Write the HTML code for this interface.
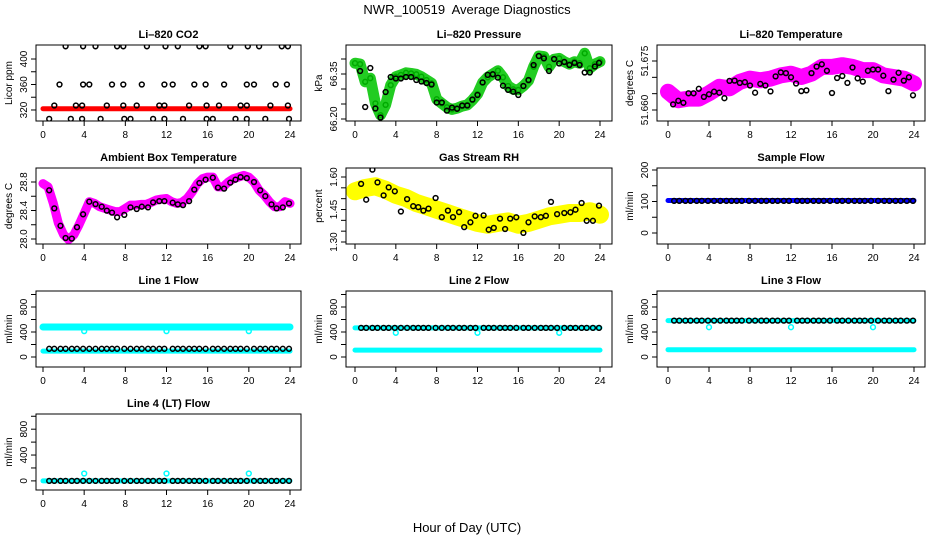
<!DOCTYPE html>
<html><head><meta charset="utf-8">
<style>
html,body{margin:0;padding:0;background:#fff;}
svg{display:block;font-family:"Liberation Sans",Arial,sans-serif;}
</style></head>
<body>
<svg id="chart" width="936" height="540" viewBox="0 0 936 540" xmlns="http://www.w3.org/2000/svg">
<rect x="0" y="0" width="936" height="540" fill="#fff"/>
<text x="467" y="14" text-anchor="middle" font-size="13" xml:space="preserve" style="white-space:pre">NWR_100519  Average Diagnostics</text>
<text x="467" y="532" text-anchor="middle" font-size="13">Hour of Day (UTC)</text>
<g id="panels"></g>
</svg>
<script>
// ---------- data ----------
const xTicks = [0,4,8,12,16,20,24];
const halfT = [0,0.5,1,1.5,2,2.5,3,3.5,4,4.5,5,5.5,6,6.5,7,7.5,8,8.5,9,9.5,10,10.5,11,11.5,12,12.5,13,13.5,14,14.5,15,15.5,16,16.5,17,17.5,18,18.5,19,19.5,20,20.5,21,21.5,22,22.5,23,23.5,24];
const hourT = [0,1,2,3,4,5,6,7,8,9,10,11,12,13,14,15,16,17,18,19,20,21,22,23,24];
const blackHalfT = [0.5,1,1.5,2,2.5,3,3.5,4,4.5,5,5.5,6,6.5,7,7.5,8,8.5,9,9.5,10,10.5,11,11.5,12,12.5,13,13.5,14,14.5,15,15.5,16,16.5,17,17.5,18,18.5,19,19.5,20,20.5,21,21.5,22,22.5,23,23.5,23.9];
const blackT = [0.6,1.1,1.7,2.2,2.8,3.3,3.9,4.5,5.1,5.7,6.2,6.7,7.2,7.9,8.5,9.1,9.6,10.2,10.7,11.3,11.8,12.6,13.1,13.6,14.2,14.7,15.2,15.8,16.5,17.0,17.6,18.2,18.7,19.2,19.8,20.5,21.1,21.6,22.2,22.7,23.3,23.9];
const flatT = [0,24];
const dipT = [4,12,20];

// CO2
const co2RedVals = [322,322];
const co2BlkT = [2.2,3.9,5.1,7.2,7.8,10.1,11.9,13.1,15.2,15.8,18.2,19.9,21.0,23.2,23.8, 1.6,3.9,4.5,6.7,7.8,9.6,11.8,12.6,14.7,15.8,17.6,19.8,20.5,22.6,23.7, 1.1,3.2,3.8,6.2,7.8,9.1,11.3,11.8,14.2,15.9,17.1,19.2,19.8,22.1,23.8, 0.6,2.7,3.8,5.6,7.9,8.5,10.7,11.8,13.6,15.9,16.5,18.7,19.8,21.6,23.9];
const co2BlkVals = [420,420,420,420,420,420,420,420,420,420,420,420,420,420,420, 360,360,360,360,360,360,360,360,360,360,360,360,360,360,360, 327,327,327,327,327,327,327,327,327,327,327,327,327,327,327, 306,306,306,306,306,306,306,306,306,306,306,306,306,306,306];
// Pressure
const presGreen = [66.386,66.383,66.324,66.336,66.252,66.213,66.247,66.313,66.341,66.347,66.354,66.352,66.349,66.341,66.330,66.319,66.266,66.252,66.239,66.232,66.236,66.243,66.247,66.263,66.283,66.321,66.339,66.350,66.361,66.339,66.310,66.299,66.297,66.310,66.328,66.374,66.410,66.408,66.374,66.399,66.402,66.391,66.383,66.391,66.386,66.419,66.369,66.383,66.391];
const presBlack = [66.36,66.24,66.37,66.235,66.205,66.29,66.34,66.335,66.335,66.34,66.34,66.33,66.325,66.32,66.315,66.255,66.255,66.228,66.238,66.234,66.245,66.245,66.265,66.28,66.322,66.347,66.349,66.338,66.311,66.297,66.291,66.28,66.31,66.33,66.38,66.41,66.402,66.36,66.40,66.385,66.39,66.38,66.387,66.38,66.355,66.355,66.375,66.387];
// Li-820 temperature
const ltempMag = [51.6656,51.6630,51.6635,51.6635,51.6651,51.6671,51.6666,51.6686,51.6696,51.6691,51.6696,51.6706,51.6711,51.6701,51.6711,51.6732,51.6732,51.6737,51.6732,51.6722,51.6722,51.6706,51.6701,51.6696,51.6681];
const ltempBlack = [51.6617,51.6628,51.6622,51.6651,51.6651,51.6665,51.6640,51.6648,51.6656,51.6653,51.6636,51.6689,51.6690,51.6683,51.6685,51.6675,51.6653,51.6680,51.6675,51.6657,51.6703,51.6715,51.6713,51.6700,51.6681,51.6658,51.6660,51.6713,51.6733,51.6740,51.6720,51.6652,51.6698,51.6704,51.6683,51.6730,51.6697,51.6687,51.6720,51.6724,51.6724,51.6705,51.6658,51.6693,51.6714,51.6690,51.6700,51.6645];
// Ambient box temperature
const ambMag = [28.777,28.731,28.499,28.222,28.060,27.991,28.060,28.199,28.361,28.523,28.499,28.453,28.430,28.407,28.384,28.384,28.430,28.476,28.476,28.486,28.486,28.513,28.546,28.560,28.569,28.523,28.499,28.513,28.569,28.661,28.777,28.846,28.869,28.869,28.731,28.731,28.800,28.846,28.869,28.892,28.869,28.800,28.684,28.615,28.523,28.453,28.453,28.523,28.499];
const ambBlack = [28.684,28.430,28.185,28.014,28.005,28.166,28.347,28.523,28.490,28.453,28.398,28.370,28.305,28.338,28.444,28.421,28.453,28.444,28.513,28.532,28.532,28.509,28.486,28.476,28.532,28.694,28.786,28.832,28.860,28.721,28.707,28.791,28.832,28.869,28.855,28.800,28.684,28.601,28.486,28.430,28.444,28.499];
// Gas stream RH
const rhYellow = [1.534,1.549,1.557,1.541,1.518,1.503,1.480,1.465,1.449,1.434,1.418,1.403,1.388,1.380,1.388,1.395,1.380,1.388,1.403,1.418,1.426,1.434,1.434,1.442,1.426];
const rhBlack = [1.568,1.495,1.634,1.575,1.515,1.552,1.534,1.441,1.498,1.465,1.461,1.445,1.454,1.503,1.415,1.445,1.415,1.438,1.369,1.391,1.421,1.423,1.357,1.365,1.408,1.360,1.408,1.414,1.342,1.391,1.418,1.415,1.421,1.485,1.429,1.434,1.437,1.449,1.480,1.398,1.398,1.468];
// Sample flow
const sampBlue = [103,103];
const sampBlack = [102,102,102,102,102,102,102,102,102,102,102,102,102,102,102,102,102,102,102,102,102,102,102,102,102,102,102,102,102,102,102,102,102,102,102,102,102,102,102,102,102,102];
// Line flows
const l1CyanHi = [480,480];
const l1CyanLo = [95,95];
const l1Dips = [415,415,415];
const l1Black = [132,132,132,132,132,132,132,132,132,132,132,132,132,132,132,132,132,132,132,132,132,132,132,132,132,132,132,132,132,132,132,132,132,132,132,132,132,132,132,132,132,132];
const l2CyanHi = [466,466];
const l2CyanLo = [111,111];
const l2Dips = [387,387,387];
const l2Black = [466,466,466,466,466,466,466,466,466,466,466,466,466,466,466,466,466,466,466,466,466,466,466,466,466,466,466,466,466,466,466,466,466,466,466,466,466,466,466,466,466,466];
const l3CyanHi = [583,583];
const l3CyanLo = [117,117];
const l3Dips = [477,477,477];
const l3Black = [583,583,583,583,583,583,583,583,583,583,583,583,583,583,583,583,583,583,583,583,583,583,583,583,583,583,583,583,583,583,583,583,583,583,583,583,583,583,583,583,583,583];
const l4Cyan = [0,0];
const l4Dips = [115,115,115];
const l4Black = [0,0,0,0,0,0,0,0,0,0,0,0,0,0,0,0,0,0,0,0,0,0,0,0,0,0,0,0,0,0,0,0,0,0,0,0,0,0,0,0,0,0];

// ---------- layout ----------
const NS = 'http://www.w3.org/2000/svg';
const root = document.getElementById('panels');
function mk(tag, attrs, parent){
  const e = document.createElementNS(NS, tag);
  for (const k in attrs) e.setAttribute(k, attrs[k]);
  parent.appendChild(e);
  return e;
}
const cols = [{l:36,r:301,x0:43,x24:290},{l:346,r:612,x0:355,x24:600},{l:657,r:925,x0:668,x24:914}];
const rowTop = [45,168,291,414];
const H = 76;

const panels = [
 {name:'li820-co2', title:'Li\u2013820 CO2', ylab:'Licor ppm', c:0, r:0, dom:[302.7,422], ticks:[320,340,360,380,400], labels:[320,360,400], fmt:0,
  series:[{type:'line',t:flatT,v:co2RedVals,color:'#ff0000',w:5},{type:'pts',t:co2BlkT,v:co2BlkVals,color:'#000'}]},
 {name:'li820-pressure', title:'Li\u2013820 Pressure', ylab:'kPa', c:1, r:0, dom:[66.1933,66.4467], ticks:[66.20,66.25,66.30,66.35,66.40], labels:[66.20,66.35], fmt:2,
  series:[{type:'line',t:halfT,v:presGreen,color:'#22cc22',w:11},{type:'pts',t:halfT,v:presGreen,color:'#00aa00'},{type:'pts',t:blackHalfT,v:presBlack,color:'#000'}]},
 {name:'li820-temperature', title:'Li\u2013820 Temperature', ylab:'degrees C', c:2, r:0, dom:[51.65663,51.6799], ticks:[51.660,51.665,51.670,51.675], labels:[51.660,51.675], fmt:3,
  series:[{type:'line',t:hourT,v:ltempMag,color:'#ff00ff',w:16},{type:'pts',t:blackHalfT,v:ltempBlack,color:'#000'}]},
 {name:'ambient-box-temperature', title:'Ambient Box Temperature', ylab:'degrees C', c:0, r:1, dom:[27.9298,28.9965], ticks:[28.0,28.2,28.4,28.6,28.8], labels:[28.0,28.4,28.8], fmt:1,
  series:[{type:'line',t:halfT,v:ambMag,color:'#ff00ff',w:9},{type:'pts',t:blackT,v:ambBlack,color:'#000'}]},
 {name:'gas-stream-rh', title:'Gas Stream RH', ylab:'percent', c:1, r:1, dom:[1.2908,1.6415], ticks:[1.30,1.35,1.40,1.45,1.50,1.55,1.60], labels:[1.30,1.45,1.60], fmt:2,
  series:[{type:'line',t:hourT,v:rhYellow,color:'#ffff00',w:18},{type:'pts',t:blackT,v:rhBlack,color:'#000'}]},
 {name:'sample-flow', title:'Sample Flow', ylab:'ml/min', c:2, r:1, dom:[-34.9,206.3], ticks:[0,50,100,150,200], labels:[0,100,200], fmt:0,
  series:[{type:'line',t:flatT,v:sampBlue,color:'#0000ff',w:5},{type:'pts',t:blackT,v:sampBlack,color:'#000'}]},
 {name:'line1-flow', title:'Line 1 Flow', ylab:'ml/min', c:0, r:2, dom:[-160,1056], ticks:[0,200,400,600,800,1000], labels:[0,400,800], fmt:0,
  series:[{type:'line',t:flatT,v:l1CyanHi,color:'#00ffff',w:7},{type:'line',t:flatT,v:l1CyanLo,color:'#00ffff',w:5},{type:'pts',t:dipT,v:l1Dips,color:'#00ffff'},{type:'pts',t:blackT,v:l1Black,color:'#000'}]},
 {name:'line2-flow', title:'Line 2 Flow', ylab:'ml/min', c:1, r:2, dom:[-160,1056], ticks:[0,200,400,600,800,1000], labels:[0,400,800], fmt:0,
  series:[{type:'line',t:flatT,v:l2CyanHi,color:'#00ffff',w:5},{type:'line',t:flatT,v:l2CyanLo,color:'#00ffff',w:5},{type:'pts',t:dipT,v:l2Dips,color:'#00ffff'},{type:'pts',t:blackT,v:l2Black,color:'#000'}]},
 {name:'line3-flow', title:'Line 3 Flow', ylab:'ml/min', c:2, r:2, dom:[-160,1056], ticks:[0,200,400,600,800,1000], labels:[0,400,800], fmt:0,
  series:[{type:'line',t:flatT,v:l3CyanHi,color:'#00ffff',w:5},{type:'line',t:flatT,v:l3CyanLo,color:'#00ffff',w:5},{type:'pts',t:dipT,v:l3Dips,color:'#00ffff'},{type:'pts',t:blackT,v:l3Black,color:'#000'}]},
 {name:'line4-flow', title:'Line 4 (LT) Flow', ylab:'ml/min', c:0, r:3, dom:[-141,1035], ticks:[0,200,400,600,800,1000], labels:[0,400,800], fmt:0,
  series:[{type:'line',t:flatT,v:l4Cyan,color:'#00ffff',w:5},{type:'pts',t:dipT,v:l4Dips,color:'#00ffff'},{type:'pts',t:blackT,v:l4Black,color:'#000'}]}
];

panels.forEach(p => {
  const col = cols[p.c];
  const top = rowTop[p.r], bot = top + H;
  const xs = h => col.x0 + (col.x24 - col.x0) * h / 24;
  const ys = v => bot - (v - p.dom[0]) / (p.dom[1] - p.dom[0]) * H;
  const g = mk('g', {}, root);
  
  
  const clipId = 'clip-' + p.name;
  const cp = mk('clipPath', {id: clipId}, g);
  mk('rect', {x: col.l, y: top, width: col.r - col.l, height: H}, cp);
  const data = mk('g', {'clip-path': 'url(#' + clipId + ')'}, g);
  
  
  p.series.forEach(s => {
    if (s.type === 'line') {
      const pts = s.t.map((h, i) => xs(h).toFixed(1) + ',' + ys(s.v[i]).toFixed(1)).join(' ');
      const pl = mk('polyline', {points: pts, fill: 'none', stroke: s.color, 'stroke-width': s.w, 'stroke-linejoin': 'round', 'stroke-linecap': 'round'}, data);
      
      
    } else {
      s.t.forEach((h, i) => {
        const c = mk('circle', {cx: xs(h).toFixed(1), cy: ys(s.v[i]).toFixed(1), r: 2.4, fill: 'none', stroke: s.color, 'stroke-width': 1.5}, data);
        
        
      });
    }
  });
  const fr = mk('rect', {x: col.l, y: top, width: col.r - col.l, height: H, fill: 'none', stroke: '#000', 'stroke-width': 1}, g);
  
  
  const xa = mk('g', {}, g);
  
  
  xTicks.forEach(h => {
    mk('line', {x1: xs(h), x2: xs(h), y1: bot, y2: bot + 5, stroke: '#000'}, xa);
    const t = mk('text', {x: xs(h), y: bot + 17, 'text-anchor': 'middle', 'font-size': 10}, xa);
    t.textContent = h;
  });
  const ya = mk('g', {}, g);
  
  
  p.ticks.forEach(v => {
    mk('line', {x1: col.l - 5, x2: col.l, y1: ys(v), y2: ys(v), stroke: '#000'}, ya);
  });
  p.labels.forEach(v => {
    const yy = ys(v), xx = col.l - 9;
    const t = mk('text', {x: xx, y: yy, 'text-anchor': 'middle', 'font-size': 10, transform: 'rotate(-90 ' + xx + ' ' + yy + ')'}, ya);
    t.textContent = v.toFixed(p.fmt);
  });
  const yl = mk('text', {x: col.l - 24, y: top + H / 2, 'text-anchor': 'middle', 'font-size': 10, transform: 'rotate(-90 ' + (col.l - 24) + ' ' + (top + H / 2) + ')'}, g);
  yl.textContent = p.ylab;
  
  
  const tt = mk('text', {x: (col.l + col.r) / 2, y: top - 7, 'text-anchor': 'middle', 'font-size': 11, 'font-weight': 'bold'}, g);
  tt.textContent = p.title;
  
  
});
</script>
</body></html>
